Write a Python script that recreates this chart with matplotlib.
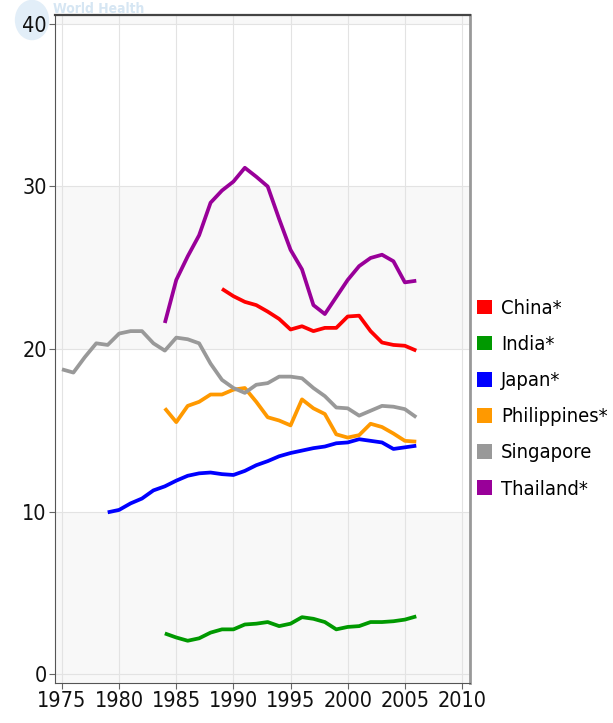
import matplotlib
matplotlib.use('Agg')
import matplotlib.pyplot as plt
from matplotlib import font_manager
from matplotlib.patches import Patch, Circle

# narrow font if the system has one
cond = any(f.name == 'DejaVu Sans' and 'ondensed' in f.fname for f in font_manager.fontManager.ttflist)
plt.rcParams['font.family'] = ['DejaVu Sans']
if cond:
    plt.rcParams['font.stretch'] = 'condensed'
    fsize = 15.5
else:
    fsize = 13.8

years_sg = list(range(1975, 2007))
singapore = [18.75, 18.55, 19.5, 20.35, 20.25, 20.95, 21.1, 21.1, 20.35, 19.9, 20.7, 20.6, 20.35, 19.1, 18.1,
             17.6, 17.3, 17.8, 17.9, 18.3, 18.3, 18.2, 17.6, 17.1, 16.4, 16.35, 15.9, 16.2, 16.5, 16.45,
             16.3, 15.8]

years_th = list(range(1984, 2007))
thailand = [21.6, 24.25, 25.7, 27.0, 29.0, 29.75, 30.3, 31.15, 30.6, 30.0, 28.0, 26.1, 24.9, 22.7, 22.15, 23.2,
            24.25, 25.1, 25.6, 25.8, 25.4, 24.1, 24.2]

years_cn = list(range(1989, 2007))
china = [23.7, 23.25, 22.9, 22.7, 22.3, 21.85, 21.2, 21.4, 21.1, 21.3, 21.3, 22.0, 22.05, 21.1, 20.4, 20.25,
         20.2, 19.9]

years_jp = list(range(1979, 2007))
japan = [9.95, 10.1, 10.5, 10.8, 11.3, 11.55, 11.9, 12.2, 12.35, 12.4, 12.3, 12.25, 12.5, 12.85, 13.1, 13.4,
         13.6, 13.75, 13.9, 14.0, 14.2, 14.25, 14.45, 14.35, 14.25, 13.85, 13.95, 14.05]

years_ph = list(range(1984, 2007))
philippines = [16.35, 15.5, 16.5, 16.75, 17.2, 17.2, 17.5, 17.6, 16.75, 15.8, 15.6, 15.3, 16.9, 16.35, 16.0,
               14.75, 14.55, 14.7, 15.4, 15.2, 14.8, 14.35, 14.3]

years_in = list(range(1984, 2007))
india = [2.5, 2.25, 2.05, 2.2, 2.55, 2.75, 2.75, 3.05, 3.1, 3.2, 2.95, 3.1, 3.5, 3.4, 3.2, 2.75, 2.9, 2.95,
         3.2, 3.2, 3.25, 3.35, 3.55]

series = [
    ('China*', years_cn, china, '#ff0000'),
    ('India*', years_in, india, '#009900'),
    ('Japan*', years_jp, japan, '#0000ff'),
    ('Philippines*', years_ph, philippines, '#ff9900'),
    ('Singapore', years_sg, singapore, '#999999'),
    ('Thailand*', years_th, thailand, '#990099'),
]

xticks = list(range(1975, 2011, 5))
yticks = [0, 10, 20, 30, 40]

fig = plt.figure(figsize=(6.13, 7.23), dpi=100)
ax = fig.add_axes([55 / 613, 40 / 723, 415 / 613, 668 / 723])

# alternating bands
for lo, hi in [(-5, 10), (20, 30), (40, 50)]:
    ax.axhspan(lo, hi, color='#f8f8f8', zorder=0, lw=0)
for x in xticks:
    ax.axvline(x, color='#e3e3e3', lw=0.8, zorder=1)
for y in yticks:
    ax.axhline(y, color='#e3e3e3', lw=0.8, zorder=1)

for name, xs, ys, col in series:
    ax.plot(xs, ys, color=col, lw=2.7, zorder=3, solid_capstyle='butt', solid_joinstyle='round')

ax.set_xlim(1974.39, 2010.7)
ax.set_ylim(-0.55, 40.55)
ax.set_xticks(xticks)
ax.set_yticks(yticks)
ax.tick_params(labelsize=fsize, length=4, width=0.8, pad=2, colors='#666666', labelcolor='#111111')

ax.spines['left'].set_color('#555555')
ax.spines['bottom'].set_color('#555555')
ax.spines['top'].set_color('#444444')
ax.spines['top'].set_linewidth(1.6)
ax.spines['right'].set_color('#999999')
ax.spines['right'].set_linewidth(2.0)

handles = [Patch(facecolor=c, edgecolor='none', label=n) for n, _, _, c in series]
fig.legend(handles=handles, loc='upper left', bbox_to_anchor=(477 / 613, 1 - 299 / 723),
           frameon=False, fontsize=fsize - 1.0, handlelength=0.75, handleheight=0.75, handletextpad=0.45,
           labelspacing=0.85, borderaxespad=0, borderpad=0)

# faint watermark
fig.patches.append(Circle((32 / 613, 1 - 20 / 723), 0.028, transform=fig.transFigure,
                          facecolor='#e2eef8', edgecolor='none', zorder=-1))
fig.text(53 / 613, 1 - 9 / 723, 'World Health', color='#d6e6f3', fontsize=10, fontweight='bold',
         va='center', ha='left', zorder=-1)

fig.savefig('out.png', dpi=100)
